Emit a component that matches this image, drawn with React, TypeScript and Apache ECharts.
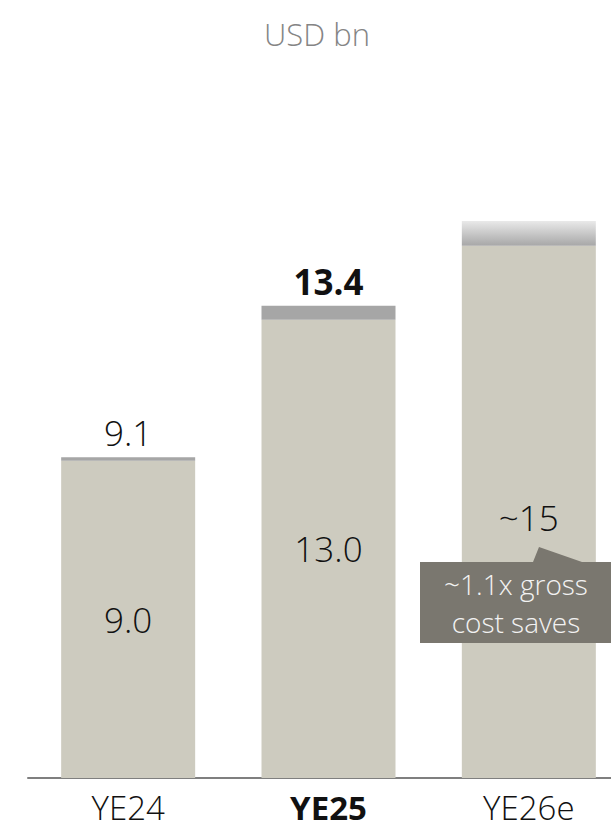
import React, { useEffect, useRef } from "react";
import * as echarts from "echarts";

const categories = ["YE24", "YE25", "YE26e"];
const baseValues = [9.0, 13.0, 15.1];
const capValues = [0.1, 0.4, 0.7];
const baseLabels = ["9.0", "13.0", "~15"];
const totalLabels = ["9.1", "13.4", ""];
const boldCategory = "YE25";
const titleText = "USD bn";
const calloutLines = ["~1.1x gross", "cost saves"];

const FONT = "'Open Sans', 'Noto Sans', sans-serif";
const BAR_COLOR = "#cdcbbf";
const CAP_COLOR = "#a6a6a6";
const CALLOUT_COLOR = "#7a776f";
const TEXT_COLOR = "#111111";

export default function App() {
  const ref = useRef<HTMLDivElement>(null);
  useEffect(() => {
    if (!ref.current) return;
    const chart = echarts.init(ref.current, undefined, { renderer: "svg" });
    chart.setOption({
      animation: false,
      backgroundColor: "#ffffff",
      grid: { left: 28, top: 73, width: 601, bottom: 52, containLabel: false },
      xAxis: {
        type: "category",
        data: categories,
        axisLine: { show: true, lineStyle: { color: "#7f7f7f", width: 2 } },
        axisTick: { show: false },
        axisLabel: {
          interval: 0,
          margin: 16,
          formatter: (v: string) => (v === boldCategory ? `{b|${v}}` : `{n|${v}}`),
          rich: {
            n: { fontFamily: FONT, fontSize: 33, fontWeight: 300, color: TEXT_COLOR, lineHeight: 26 },
            b: { fontFamily: FONT, fontSize: 33, fontWeight: "bold", color: TEXT_COLOR, lineHeight: 26 },
          },
        },
      },
      yAxis: { type: "value", min: 0, max: 20, show: false, splitLine: { show: false } },
      series: [
        {
          type: "bar",
          stack: "total",
          barWidth: 134,
          itemStyle: { color: BAR_COLOR },
          data: baseValues.map((v, i) => ({
            value: v,
            label: {
              show: true,
              position: "inside",
              offset: i === 2 ? [0, 6] : [0, 0],
              formatter: baseLabels[i],
              fontFamily: FONT,
              fontSize: 35,
              fontWeight: 300,
              color: TEXT_COLOR,
            },
          })),
        },
        {
          type: "bar",
          stack: "total",
          barWidth: 134,
          data: capValues.map((v, i) => ({
            value: v,
            itemStyle: {
              color:
                i === 2
                  ? new echarts.graphic.LinearGradient(0, 0, 0, 1, [
                      { offset: 0, color: "#e9e9e9" },
                      { offset: 1, color: "#a7a7a7" },
                    ])
                  : CAP_COLOR,
            },
            label: {
              show: totalLabels[i] !== "",
              position: "top",
              distance: 7,
              formatter: totalLabels[i],
              fontFamily: FONT,
              fontSize: 35,
              fontWeight: i === 1 ? "bold" : 300,
              color: TEXT_COLOR,
            },
          })),
        },
      ],
      graphic: [
        {
          type: "text",
          x: 317,
          y: 34,
          style: {
            text: titleText,
            fontFamily: FONT,
            fontSize: 31,
            fontWeight: 300,
            fill: "#858585",
            align: "center",
            verticalAlign: "middle",
          },
        },
        {
          type: "polygon",
          shape: {
            points: [
              [420, 562],
              [533, 562],
              [539, 547],
              [582, 562],
              [611, 562],
              [611, 643],
              [420, 643],
            ],
          },
          style: { fill: CALLOUT_COLOR },
          z: 10,
        },
        {
          type: "text",
          x: 516,
          y: 603,
          z: 11,
          style: {
            text: calloutLines.join("\n"),
            fontFamily: FONT,
            fontSize: 28,
            fontWeight: 300,
            lineHeight: 38,
            fill: "#f2f2f2",
            align: "center",
            verticalAlign: "middle",
          },
        },
      ],
    });
    return () => chart.dispose();
  }, []);
  return (
    <div style={{ position: "fixed", left: 0, top: 0, width: 611, height: 830, overflow: "hidden", background: "#fff" }}>
      <div ref={ref} style={{ width: 640, height: 830 }} />
    </div>
  );
}
